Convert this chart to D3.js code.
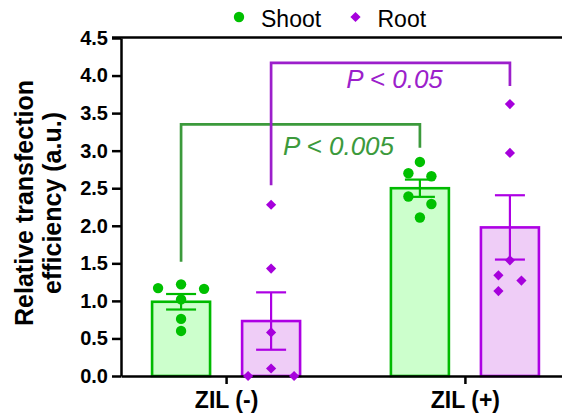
<!DOCTYPE html>
<html>
<head>
<meta charset="utf-8">
<script src="https://cdn.jsdelivr.net/npm/d3@7"></script>
<style>
  html, body { margin: 0; padding: 0; background: #fff; }
  svg { display: block; font-family: "Liberation Sans", Arial, sans-serif; }
</style>
</head>
<body>
<svg id="chart" width="562" height="419"></svg>
<script>
// ---- data ----
const categories = ["ZIL (-)", "ZIL (+)"];
const seriesNames = ["Shoot", "Root"];
// individual replicate values per category
const shootValues = [
  [1.22, 1.17, 1.16, 1.02, 0.76, 0.60],
  [2.85, 2.70, 2.66, 2.39, 2.29, 2.11]
];
const rootValues = [
  [2.28, 1.43, 0.58, 0.10, 0.00, 0.00],
  [3.62, 2.97, 1.54, 1.34, 1.27, 1.13]
];
const yTickValues = [0, 0.5, 1, 1.5, 2, 2.5, 3, 3.5, 4, 4.5];
const yTitleLines = ["Relative transfection", "efficiency (a.u.)"];
// significance brackets: series compared across categories
const comparisons = [
  { series: "Shoot", label: "P < 0.005", top: 3.35, legs: [1.52, 3.04] },
  { series: "Root",  label: "P < 0.05",  top: 4.17, legs: [2.54, 3.86] }
];

// ---- styles ----
const styles = {
  Shoot: { dot: "#00c000", stroke: "#00ba00", fill: "#ccffcc", note: "#3c9a3c", labelDx: 38, labelDy: 31 },
  Root:  { dot: "#a600dc", stroke: "#ad00e4", fill: "#efcdf7", note: "#9c1fcb", labelDx: 4,  labelDy: 25 }
};
const valuesBySeries = { Shoot: shootValues, Root: rootValues };

const svg = d3.select("#chart");
const W = 562;

const y = d3.scaleLinear().domain([0, 4.5]).range([376, 38]);
const x = d3.scalePoint().domain(categories).range([121, 570]).padding(0.44);
const inner = d3.scaleBand().domain(seriesNames).range([-74, 74]).paddingInner(0.356);
const bw = inner.bandwidth();

const groups = [];
categories.forEach((cat, ci) => {
  seriesNames.forEach(s => {
    const vals = valuesBySeries[s][ci];
    const mean = d3.mean(vals);
    const sem = d3.deviation(vals) / Math.sqrt(vals.length);
    groups.push({ cat, series: s, vals, mean, sem, cx: x(cat) + inner(s) + bw / 2 });
  });
});

// ---- bars ----
svg.append("g").selectAll("rect").data(groups).join("rect")
  .attr("x", d => d.cx - bw / 2)
  .attr("y", d => y(d.mean))
  .attr("width", bw)
  .attr("height", d => y(0) - y(d.mean))
  .attr("fill", d => styles[d.series].fill)
  .attr("stroke", d => styles[d.series].stroke)
  .attr("stroke-width", 2.6);

// ---- axes ----
const yAxis = svg.append("g")
  .attr("transform", `translate(${x.range()[0]},0)`)
  .call(d3.axisLeft(y).tickValues(yTickValues).tickFormat(d3.format(".1f"))
    .tickSize(9).tickSizeOuter(0).tickPadding(4));
yAxis.selectAll("path, line").attr("stroke", "#000").attr("stroke-width", 2.5);
yAxis.selectAll("text").attr("font-size", 20).attr("font-weight", "bold").attr("fill", "#000");

// top rule at the axis maximum
svg.append("line")
  .attr("x1", x.range()[0] - 9).attr("x2", W)
  .attr("y1", y(4.5) - 0.5).attr("y2", y(4.5) - 0.5)
  .attr("stroke", "#000").attr("stroke-width", 2.6);

const xAxis = svg.append("g")
  .attr("transform", `translate(0,${y(0)})`)
  .call(d3.axisBottom(x).tickSize(8).tickSizeOuter(0).tickPadding(8));
xAxis.selectAll("path, line").attr("stroke", "#000").attr("stroke-width", 2.5);
xAxis.selectAll("text").attr("font-size", 23).attr("font-weight", "bold").attr("fill", "#000");

// y axis title
svg.append("g").selectAll("text").data(yTitleLines).join("text")
  .attr("transform", (d, i) => `translate(${33 + i * 28},203) rotate(-90)`)
  .attr("text-anchor", "middle")
  .attr("font-size", 25).attr("font-weight", "bold").attr("fill", "#000")
  .text(d => d);

// ---- error bars (mean ± SEM) ----
const cap = 15;
const eb = svg.append("g").selectAll("g").data(groups).join("g")
  .attr("stroke", d => styles[d.series].stroke).attr("stroke-width", 2.2);
eb.append("line").attr("x1", d => d.cx).attr("x2", d => d.cx)
  .attr("y1", d => y(d.mean + d.sem)).attr("y2", d => y(d.mean - d.sem));
eb.append("line").attr("x1", d => d.cx - cap).attr("x2", d => d.cx + cap)
  .attr("y1", d => y(d.mean + d.sem)).attr("y2", d => y(d.mean + d.sem));
eb.append("line").attr("x1", d => d.cx - cap).attr("x2", d => d.cx + cap)
  .attr("y1", d => y(d.mean - d.sem)).attr("y2", d => y(d.mean - d.sem));

// ---- replicate points, spread into rows so they don't overlap ----
const SPACING = 23, ROW_GAP = 9, STAGGER_GAP = 10.9;
function swarm(vals) {
  const pts = vals.map(v => ({ v, py: y(v) })).sort((a, b) => a.py - b.py);
  const rows = [];
  pts.forEach(p => {
    const last = rows[rows.length - 1];
    if (last && p.py - last[last.length - 1].py < ROW_GAP) last.push(p);
    else rows.push([p]);
  });
  let prev = null;
  rows.forEach(row => {
    const n = row.length;
    const offs = d3.range(n).map(i => (i - (n - 1) / 2) * SPACING)
      .sort((a, b) => Math.abs(a) - Math.abs(b) || a - b);
    let shift = 0;
    if (prev && (prev.length % 2) !== (n % 2) &&
        row[0].py - prev[prev.length - 1].py < STAGGER_GAP) shift = -SPACING / 2;
    row.forEach((p, i) => { p.dx = offs[i] + shift; });
    prev = row;
  });
  return pts;
}

const circleSym = d3.symbol().type(d3.symbolCircle).size(Math.PI * 5.2 * 5.2);
const diamondSym = d3.symbol().type(d3.symbolSquare).size(52);

groups.forEach(g => {
  const pts = swarm(g.vals);
  const st = styles[g.series];
  svg.append("g").selectAll("path").data(pts).join("path")
    .attr("d", g.series === "Shoot" ? circleSym : diamondSym)
    .attr("transform", p => `translate(${g.cx + p.dx},${p.py})` + (g.series === "Root" ? " rotate(45)" : ""))
    .attr("fill", st.dot);
});

// ---- significance brackets ----
comparisons.forEach(c => {
  const st = styles[c.series];
  const x1 = x(categories[0]) + inner(c.series) + bw / 2;
  const x2 = x(categories[1]) + inner(c.series) + bw / 2;
  svg.append("path")
    .attr("d", `M${x1},${y(c.legs[0])}V${y(c.top)}H${x2}V${y(c.legs[1])}`)
    .attr("fill", "none").attr("stroke", st.note).attr("stroke-width", 2.7);
  svg.append("text")
    .attr("x", (x1 + x2) / 2 + st.labelDx)
    .attr("y", y(c.top) + st.labelDy)
    .attr("text-anchor", "middle")
    .attr("font-size", 26).attr("font-style", "italic")
    .attr("fill", st.note)
    .text(c.label);
});

// ---- legend ----
const legend = svg.append("g").attr("transform", "translate(0,17)");
const legendItems = [
  { name: seriesNames[0], x: 239 },
  { name: seriesNames[1], x: 355.5 }
];
legendItems.forEach(it => {
  legend.append("path")
    .attr("d", it.name === "Shoot" ? circleSym : diamondSym)
    .attr("transform", `translate(${it.x},0)` + (it.name === "Root" ? " rotate(45)" : ""))
    .attr("fill", styles[it.name].dot);
  legend.append("text")
    .attr("x", it.x + 22).attr("y", 10)
    .attr("font-size", 23).attr("fill", "#000")
    .text(it.name);
});
</script>
</body>
</html>
